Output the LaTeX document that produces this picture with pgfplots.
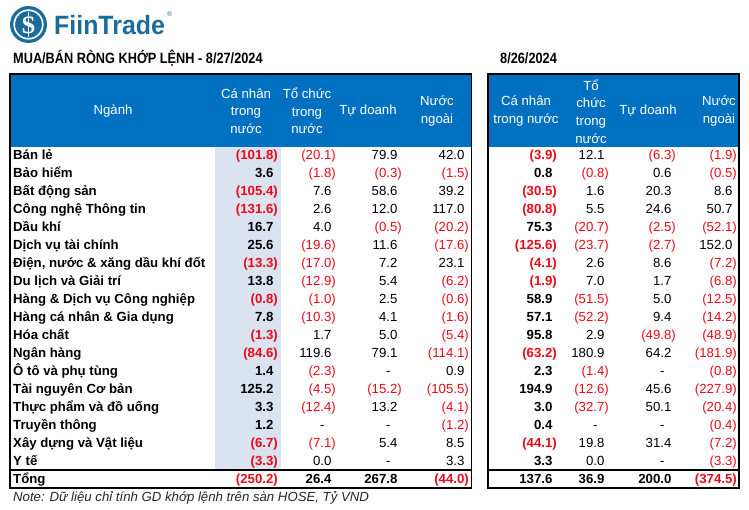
\documentclass[border=0pt]{standalone}
\usepackage{pgfplots}
\pgfplotsset{compat=1.18}
\usepackage{pgfplotstable}
\usepackage{fontspec}
\usepackage{graphicx}
\setmainfont{Liberation Sans}
\newfontfamily\serifbf{Liberation Serif}
\definecolor{hdrblue}{RGB}{0,112,192}
\definecolor{cellshade}{RGB}{219,226,240}
\definecolor{negred}{RGB}{232,10,25}
\definecolor{logoblue}{RGB}{27,108,155}

\def\dashstr{-}
\def\stripminus-#1\relax{#1}
\newcommand\fmt[1]{\edef\tmp{#1}%
  \ifx\tmp\dashstr -\hspace{7pt}\phantom{)}%
  \else\ifdim\tmp pt<0pt \textcolor{negred}{(\expandafter\stripminus\tmp\relax)}%
  \else\tmp\phantom{)}\fi\fi}

\pgfplotstableread[col sep=semicolon,row sep=\\]{
i;name;a1;a2;a3;a4;b1;b2;b3;b4\\
0;Bán lẻ;-101.8;-20.1;79.9;42.0;-3.9;12.1;-6.3;-1.9\\
1;Bảo hiểm;3.6;-1.8;-0.3;-1.5;0.8;-0.8;0.6;-0.5\\
2;Bất động sản;-105.4;7.6;58.6;39.2;-30.5;1.6;20.3;8.6\\
3;Công nghệ Thông tin;-131.6;2.6;12.0;117.0;-80.8;5.5;24.6;50.7\\
4;Dầu khí;16.7;4.0;-0.5;-20.2;75.3;-20.7;-2.5;-52.1\\
5;Dịch vụ tài chính;25.6;-19.6;11.6;-17.6;-125.6;-23.7;-2.7;152.0\\
6;Điện, nước \& xăng dầu khí đốt;-13.3;-17.0;7.2;23.1;-4.1;2.6;8.6;-7.2\\
7;Du lịch và Giải trí;13.8;-12.9;5.4;-6.2;-1.9;7.0;1.7;-6.8\\
8;Hàng \& Dịch vụ Công nghiệp;-0.8;-1.0;2.5;-0.6;58.9;-51.5;5.0;-12.5\\
9;Hàng cá nhân \& Gia dụng;7.8;-10.3;4.1;-1.6;57.1;-52.2;9.4;-14.2\\
10;Hóa chất;-1.3;1.7;5.0;-5.4;95.8;2.9;-49.8;-48.9\\
11;Ngân hàng;-84.6;119.6;79.1;-114.1;-63.2;180.9;64.2;-181.9\\
12;Ô tô và phụ tùng;1.4;-2.3;-;0.9;2.3;-1.4;-;-0.8\\
13;Tài nguyên Cơ bản;125.2;-4.5;-15.2;-105.5;194.9;-12.6;45.6;-227.9\\
14;Thực phẩm và đồ uống;3.3;-12.4;13.2;-4.1;3.0;-32.7;50.1;-20.4\\
15;Truyền thông;1.2;-;-;-1.2;0.4;-;-;-0.4\\
16;Xây dựng và Vật liệu;-6.7;-7.1;5.4;8.5;-44.1;19.8;31.4;-7.2\\
17;Y tế;-3.3;0.0;-;3.3;3.3;0.0;-;-3.3\\
}\sectors

\pgfplotstableread[col sep=semicolon,row sep=\\]{
i;name;a1;a2;a3;a4;b1;b2;b3;b4\\
18;Tổng;-250.2;26.4;267.8;-44.0;137.6;36.9;200.0;-374.5\\
}\total

\newcommand\bodyfont{\fontsize{13.2}{15}\selectfont}

\begin{document}
\begin{tikzpicture}
\begin{axis}[name=ax, scale only axis, width=749pt, height=510pt,
  xmin=0, xmax=749, ymin=0, ymax=510, y dir=reverse, hide axis, clip=false,
  cell/.style={only marks, mark=none, point meta=explicit symbolic,
    nodes near coords={\fmt{\pgfplotspointmeta}},
    every node near coord/.append style={anchor=base east, inner sep=0pt, font=\bodyfont}},
  cellbf/.style={cell, every node near coord/.append style={font=\bodyfont\bfseries}},
  rowname/.style={only marks, mark=none, point meta=explicit symbolic,
    nodes near coords={\pgfplotspointmeta},
    every node near coord/.append style={anchor=base west, inner sep=0pt, font=\bodyfont\bfseries}},
]
% logo
\fill[logoblue] (axis cs:28.5,24.5) circle[radius=18.5pt];
\draw[white, line width=1.6pt] (axis cs:28.5,24.5) circle[radius=14.3pt];
\draw[white, line width=1.3pt] (axis cs:28.5,12) -- (axis cs:28.5,37);
\node[text=white, font=\serifbf\bfseries\fontsize{25}{25}\selectfont] at (axis cs:28.5,25.5) {S};
\node[anchor=base west, inner sep=0pt, text=logoblue, font=\bfseries\fontsize{26.5}{26.5}\selectfont] at (axis cs:54,35) {\scalebox{0.94}[1]{FiinTrade}};
\node[anchor=base west, inner sep=0pt, text=logoblue, font=\fontsize{7}{7}\selectfont] at (axis cs:167,17) {\textregistered};
% titles
\node[anchor=base west, inner sep=0pt, font=\bfseries\fontsize{14.9}{15}\selectfont] at (axis cs:13,64) {\scalebox{0.855}[1]{MUA/BÁN RÒNG KHỚP LỆNH - 8/27/2024}};
\node[anchor=base west, inner sep=0pt, font=\bfseries\fontsize{14.9}{15}\selectfont] at (axis cs:500,64) {\scalebox{0.855}[1]{8/26/2024}};
% header fills and shading
\fill[hdrblue] (axis cs:10,74) rectangle (axis cs:471.7,147);
\fill[hdrblue] (axis cs:488,74) rectangle (axis cs:739,147);
\fill[cellshade] (axis cs:215,147) rectangle (axis cs:281,470);
% borders
\draw[black, line width=1.2pt] (axis cs:10,74) rectangle (axis cs:471.7,488);
\draw[black, line width=1.2pt] (axis cs:488,74) rectangle (axis cs:739,488);
\draw[black, line width=1.2pt] (axis cs:10,470) -- (axis cs:471.7,470);
\draw[black, line width=1.2pt] (axis cs:488,470) -- (axis cs:739,470);
% header texts
\begin{scope}[every node/.style={text=white, align=center, inner sep=0pt, font=\fontsize{13.2}{17.6}\selectfont}]
\node at (axis cs:113,111) {Ngành};
\node at (axis cs:246,111) {Cá nhân\\trong\\nước};
\node at (axis cs:307,111) {Tổ chức\\trong\\nước};
\node at (axis cs:368,111) {Tự doanh};
\node at (axis cs:437,111) {Nước\\ngoài};
\node at (axis cs:526,111) {Cá nhân\\trong nước};
\node at (axis cs:591,111.5) {Tổ\\chức\\trong\\nước};
\node at (axis cs:648,111) {Tự doanh};
\node at (axis cs:719,111) {Nước\\ngoài};
\end{scope}
% row names
\addplot[rowname] table[x expr=13, y expr=159.5+18*\thisrow{i}, meta=name] {\sectors};
\addplot[rowname] table[x expr=13, y expr=159.5+18*\thisrow{i}, meta=name] {\total};
% 8/27 values
\addplot[cellbf] table[x expr=278, y expr=159.5+18*\thisrow{i}, meta=a1] {\sectors};
\addplot[cell]   table[x expr=336, y expr=159.5+18*\thisrow{i}, meta=a2] {\sectors};
\addplot[cell]   table[x expr=402, y expr=159.5+18*\thisrow{i}, meta=a3] {\sectors};
\addplot[cell]   table[x expr=469, y expr=159.5+18*\thisrow{i}, meta=a4] {\sectors};
% 8/26 values
\addplot[cellbf] table[x expr=557, y expr=159.5+18*\thisrow{i}, meta=b1] {\sectors};
\addplot[cell]   table[x expr=609, y expr=159.5+18*\thisrow{i}, meta=b2] {\sectors};
\addplot[cell]   table[x expr=676, y expr=159.5+18*\thisrow{i}, meta=b3] {\sectors};
\addplot[cell]   table[x expr=737, y expr=159.5+18*\thisrow{i}, meta=b4] {\sectors};
% totals
\addplot[cellbf] table[x expr=278, y expr=159.5+18*\thisrow{i}, meta=a1] {\total};
\addplot[cellbf] table[x expr=336, y expr=159.5+18*\thisrow{i}, meta=a2] {\total};
\addplot[cellbf] table[x expr=402, y expr=159.5+18*\thisrow{i}, meta=a3] {\total};
\addplot[cellbf] table[x expr=469, y expr=159.5+18*\thisrow{i}, meta=a4] {\total};
\addplot[cellbf] table[x expr=557, y expr=159.5+18*\thisrow{i}, meta=b1] {\total};
\addplot[cellbf] table[x expr=609, y expr=159.5+18*\thisrow{i}, meta=b2] {\total};
\addplot[cellbf] table[x expr=676, y expr=159.5+18*\thisrow{i}, meta=b3] {\total};
\addplot[cellbf] table[x expr=737, y expr=159.5+18*\thisrow{i}, meta=b4] {\total};
% note
\node[anchor=base west, inner sep=0pt, text=black!85, font=\itshape\fontsize{13.2}{15}\selectfont] at (axis cs:13,501) {Note: Dữ liệu chỉ tính GD khớp lệnh trên sàn HOSE, Tỷ VND};
\end{axis}
\pgfresetboundingbox
\path (ax.south west) rectangle (ax.north east);
\end{tikzpicture}
\end{document}
